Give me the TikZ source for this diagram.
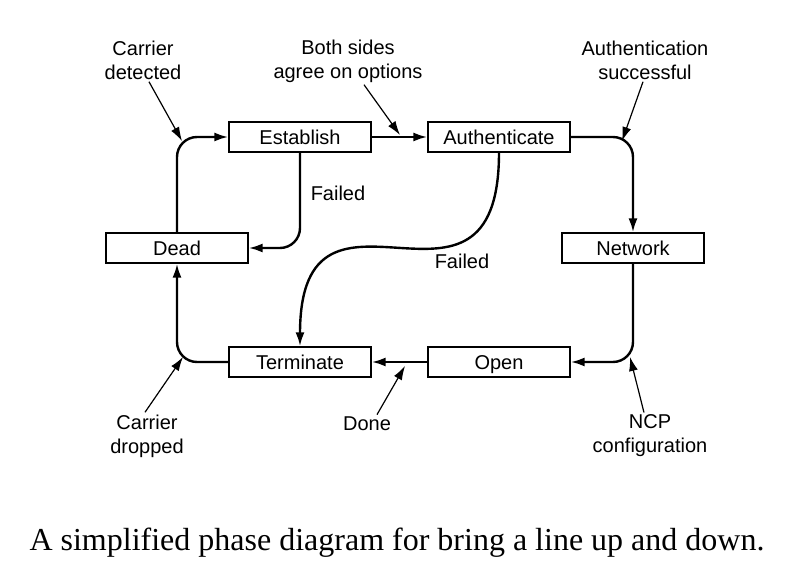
\documentclass[tikz,border=0pt]{standalone}
\usepackage{fontspec}
\setmainfont{Liberation Serif}
\setsansfont{Liberation Sans}
\usetikzlibrary{arrows.meta}
\tikzset{
    phase/.style = {rectangle, draw=black, line width=0.6pt, minimum width=71pt, minimum height=15pt, inner sep=0pt, text height=9.5pt, text depth=2pt, font=\sffamily\fontsize{10}{12}\selectfont},
    lbl/.style = {align=center, inner sep=1pt, font=\sffamily\fontsize{10}{12}\selectfont},
    link/.style = {->, line width=1.2pt, rounded corners=10pt},
    hint/.style = {->, line width=0.6pt}
}

\begin{document}
\begin{tikzpicture}
    [x=0.5pt, y=-0.5pt, >={Latex[length=7pt,width=4.5pt]}]
    \useasboundingbox (0,0) rectangle (788,566);

    % phases
    \node [phase] (establish) at (300,137) {Establish};
    \node [phase] (authenticate) at (499,137) {Authenticate};
    \node [phase] (dead) at (177,248) {Dead};
    \node [phase] (network) at (633,248) {Network};
    \node [phase] (terminate) at (300,362) {Terminate};
    \node [phase] (open) at (499,362) {Open};

    % main cycle
    \draw [link] (dead.north) |- (establish.west);
    \draw [link] (establish.east) -- (authenticate.west);
    \draw [link] (authenticate.east) -| (network.north);
    \draw [link] (network.south) |- (open.east);
    \draw [link] (open.west) -- (terminate.east);
    \draw [link] (terminate.west) -| (dead.south);

    % failures
    \draw [link] (establish.south) |- (dead.east);
    \draw [link] (authenticate.south) .. controls +(0,200) and +(0,-200) .. (terminate.north);
    \node [lbl] (fail1) at (338,193) {Failed};
    \node [lbl] (fail2) at (462,261) {Failed};

    % events
    \node [lbl] (cdetect) at (143,60) {Carrier\\detected};
    \node [lbl] (options) at (348,61) {Both sides\\agree on options};
    \node [lbl] (authok) at (645,60) {Authentication\\successful};
    \node [lbl] (cdrop) at (147,436) {Carrier\\dropped};
    \node [lbl] (done) at (367,424) {Done};
    \node [lbl] (ncp) at (650,436) {NCP\\configuration};

    \coordinate (cdetect-at) at (182,141);
    \coordinate (options-at) at (400,135);
    \coordinate (authok-at) at (622,141);
    \coordinate (cdrop-at) at (183,357);
    \coordinate (done-at) at (405,366);
    \coordinate (ncp-at) at (630,357);

    \draw [hint] ([xshift=3pt]cdetect.south) -- (cdetect-at);
    \draw [hint] ([xshift=8pt]options.south) -- (options-at);
    \draw [hint] ([xshift=-1pt]authok.south) -- (authok-at);
    \draw [hint] ([xshift=-1pt]cdrop.north) -- (cdrop-at);
    \draw [hint] ([xshift=5pt]done.north) -- (done-at);
    \draw [hint] ([xshift=-3pt]ncp.north) -- (ncp-at);

    % caption
    \node [font=\fontsize{16}{19}\selectfont] (caption) at (397,543) {A simplified phase diagram for bring a line up and down.};
\end{tikzpicture}
\end{document}
